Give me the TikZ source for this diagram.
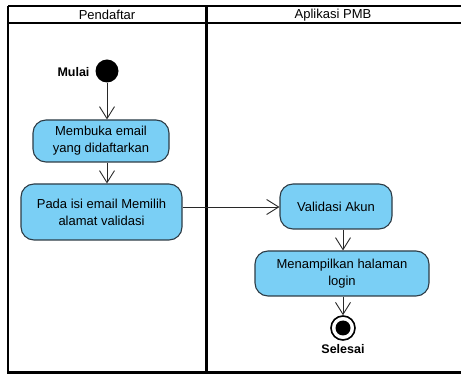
\documentclass[tikz,border=0pt]{standalone}
\usepackage{fontspec}
\setmainfont{Liberation Sans}
\usetikzlibrary{arrows.meta}
\definecolor{actfill}{RGB}{122,207,245}
\definecolor{actdraw}{RGB}{45,60,70}
\definecolor{flow}{RGB}{40,40,40}
\begin{document}
\begin{tikzpicture}[x=1pt,y=-1pt,
  lane/.style={draw=black,line width=2.4pt},
  action/.style={draw=actdraw,fill=actfill,line width=1.1pt,rounded corners=13pt,
    align=center,font=\fontsize{13}{17}\selectfont,inner sep=0pt},
  flowline/.style={draw=flow,line width=0.9pt,-{Straight Barb[length=12pt,width=15pt,line width=0.9pt]}},
  lbl/.style={font=\fontsize{13}{15}\selectfont},
  blbl/.style={font=\fontsize{12.5}{15}\selectfont\bfseries}
]
\useasboundingbox (0,0) rectangle (461,374);
\fill[white] (0,0) rectangle (461,374);
% swimlanes
\draw[lane] (8,6) -- (470,6);
\draw[lane] (8,23) -- (470,23);
\draw[lane] (8,6) -- (8,372.5) -- (470,372.5);
\draw[lane] (206.5,6) -- (206.5,372.5);
\node[lbl] (h1) at (107,15) {Pendaftar};
\node[lbl] (h2) at (333,15) {Aplikasi PMB};
% start
\node[circle,fill=black,minimum size=23pt,inner sep=0pt] (start) at (107,71) {};
\node[blbl,anchor=east] (mulai) at (93,72) {Mulai};
% actions
\node[action,minimum width=136pt,minimum height=42pt] (a1) at (101,141) {Membuka email\\yang didaftarkan};
\node[action,minimum width=161pt,minimum height=56pt] (a2) at (101.5,212) {Pada isi email Memilih\\alamat validasi};
\node[action,minimum width=112pt,minimum height=45pt] (a3) at (336,206.5) {Validasi Akun};
\node[action,minimum width=174pt,minimum height=45pt] (a4) at (342,273.5) {Menampilkan halaman\\login};
% end
\node[circle,draw=black,fill=white,line width=1.6pt,minimum size=24pt,inner sep=0pt] (end) at (343,328) {};
\node[circle,fill=black,minimum size=15pt,inner sep=0pt] (endin) at (end) {};
\node[blbl] (sel) at (343,349) {Selesai};
% flows
\draw[flowline] (start.south) -- (start.south |- a1.north);
\draw[flowline] (a1.south -| start) -- (a2.north -| start);
\draw[flowline] (a2.east |- 0,207) -- (a3.west |- 0,207);
\draw[flowline] (a3.south -| end) -- (a4.north -| end);
\draw[flowline] (a4.south -| end) -- (end.north);
\end{tikzpicture}
\end{document}
